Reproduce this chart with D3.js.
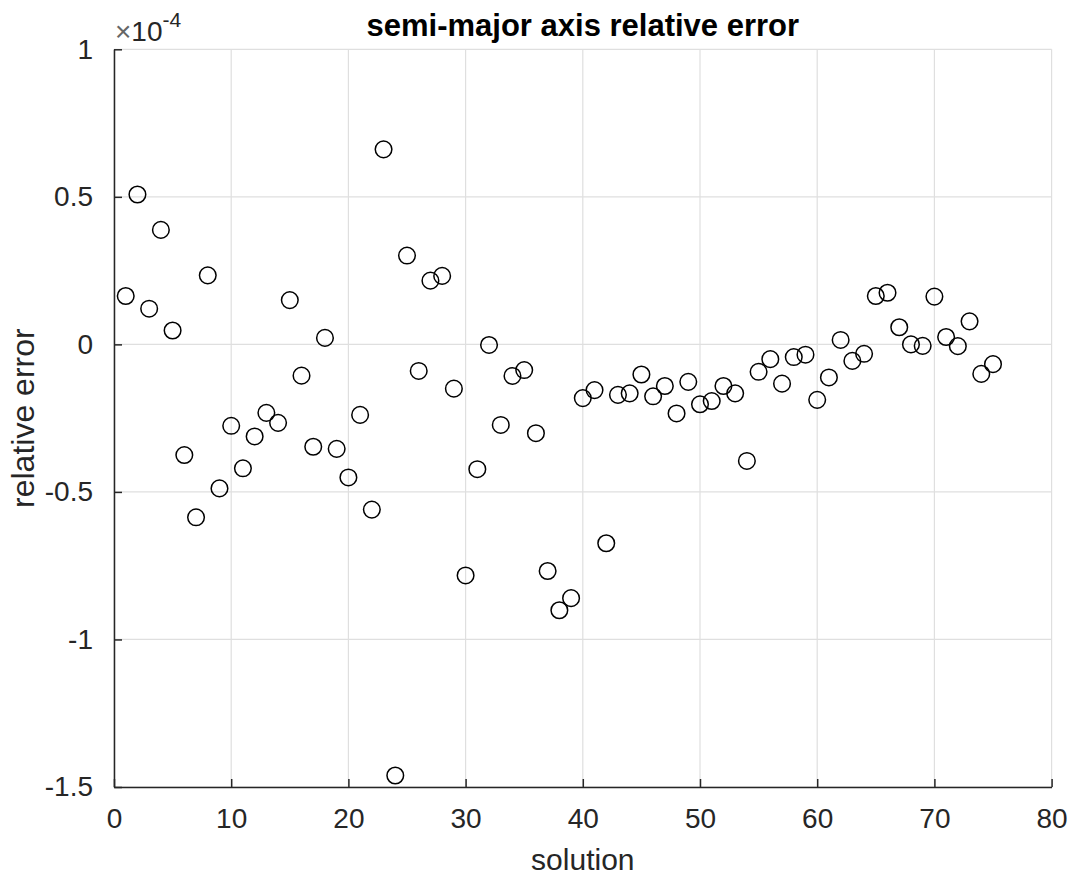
<!DOCTYPE html>
<html>
<head>
<meta charset="utf-8">
<script src="https://cdn.jsdelivr.net/npm/d3@7/dist/d3.min.js"></script>
<style>
  html, body { margin: 0; padding: 0; background: #fff; }
  svg { display: block; }
  text { font-family: "Liberation Sans", Arial, Helvetica, sans-serif; }
</style>
</head>
<body>
<svg id="chart" width="1075" height="878"></svg>
<script>
// ---- data (relative error in units of 1e-4) ----
const solutions = d3.range(1, 76);
const relErrorE4 = [
  0.164, 0.508, 0.121, 0.388, 0.047, -0.375, -0.586, 0.234, -0.488, -0.276,
  -0.420, -0.312, -0.232, -0.266, 0.150, -0.106, -0.347, 0.022, -0.354, -0.451,
  -0.239, -0.560, 0.661, -1.461, 0.301, -0.090, 0.216, 0.232, -0.150, -0.783,
  -0.423, -0.002, -0.273, -0.107, -0.087, -0.301, -0.768, -0.901, -0.860, -0.182,
  -0.155, -0.674, -0.171, -0.166, -0.102, -0.176, -0.141, -0.234, -0.127, -0.203,
  -0.192, -0.141, -0.166, -0.395, -0.093, -0.050, -0.133, -0.043, -0.035, -0.188,
  -0.112, 0.015, -0.056, -0.032, 0.164, 0.175, 0.058, 0.000, -0.005, 0.162,
  0.025, -0.006, 0.078, -0.100, -0.067
];
const xTicks = [0, 10, 20, 30, 40, 50, 60, 70, 80];
const yTicks = [-1.5, -1, -0.5, 0, 0.5, 1];
const yTickLabels = ["-1.5", "-1", "-0.5", "0", "0.5", "1"];
const titleText = "semi-major axis relative error";
const xLabelText = "solution";
const yLabelText = "relative error";

// ---- layout ----
const pLeft = 114, pRight = 1051.6, pTop = 49.3, pBottom = 787;
const axisColor = "#262626", gridColor = "#dfdfdf";

const svg = d3.select("#chart");
const x = d3.scaleLinear().domain([0, 80]).range([pLeft, pRight]);
const y = d3.scaleLinear().domain([-1.5, 1]).range([pBottom, pTop]);

// grid
const g = svg.append("g");
g.selectAll("line.vg").data(xTicks).join("line")
  .attr("x1", d => x(d)).attr("x2", d => x(d))
  .attr("y1", pTop).attr("y2", pBottom)
  .attr("stroke", gridColor).attr("stroke-width", 1.2);
g.selectAll("line.hg").data(yTicks).join("line")
  .attr("x1", pLeft).attr("x2", pRight)
  .attr("y1", d => y(d)).attr("y2", d => y(d))
  .attr("stroke", gridColor).attr("stroke-width", 1.2);

// x axis
const xAxis = svg.append("g").attr("transform", `translate(0,${pBottom})`)
  .call(d3.axisBottom(x).tickValues(xTicks).tickSizeInner(-8).tickSizeOuter(0).tickPadding(21)
    .tickFormat(d3.format("d")));
xAxis.select(".domain").attr("stroke", axisColor).attr("stroke-width", 1.5);
xAxis.selectAll(".tick line").attr("stroke", axisColor).attr("stroke-width", 1.5);
xAxis.selectAll(".tick text").attr("fill", "#262626").attr("font-size", 28)
  .attr("font-family", "'Liberation Sans', Arial, sans-serif");

// y axis
const yAxis = svg.append("g").attr("transform", `translate(${pLeft},0)`)
  .call(d3.axisLeft(y).tickValues(yTicks).tickSizeInner(-8).tickSizeOuter(0).tickPadding(21)
    .tickFormat((d, i) => yTickLabels[i]));
yAxis.select(".domain").attr("stroke", axisColor).attr("stroke-width", 1.5);
yAxis.selectAll(".tick line").attr("stroke", axisColor).attr("stroke-width", 1.5);
yAxis.selectAll(".tick text").attr("fill", "#262626").attr("font-size", 28)
  .attr("font-family", "'Liberation Sans', Arial, sans-serif");

// exponent label
const ex = svg.append("text").attr("x", pLeft + 1).attr("y", 41).attr("fill", "#262626")
  .attr("font-size", 28);
ex.append("tspan").text("\u00d7").attr("fill", "#666");
ex.append("tspan").text("10");
ex.append("tspan").text("-4").attr("font-size", 21).attr("dy", -14);

// scatter
svg.append("g").selectAll("circle").data(solutions).join("circle")
  .attr("cx", d => x(d))
  .attr("cy", (d, i) => y(relErrorE4[i]))
  .attr("r", 8.3)
  .attr("fill", "none")
  .attr("stroke", "#000")
  .attr("stroke-width", 1.5);

// title & labels
svg.append("text").attr("x", (pLeft + pRight) / 2).attr("y", 36)
  .attr("text-anchor", "middle").attr("font-weight", "bold").attr("font-size", 31)
  .attr("fill", "#000").text(titleText);
svg.append("text").attr("x", (pLeft + pRight) / 2).attr("y", 870)
  .attr("text-anchor", "middle").attr("font-size", 30).attr("fill", "#262626")
  .text(xLabelText);
svg.append("text").attr("transform", `translate(34,${(pTop + pBottom) / 2}) rotate(-90)`)
  .attr("text-anchor", "middle").attr("font-size", 32).attr("fill", "#262626")
  .text(yLabelText);
</script>
</body>
</html>
